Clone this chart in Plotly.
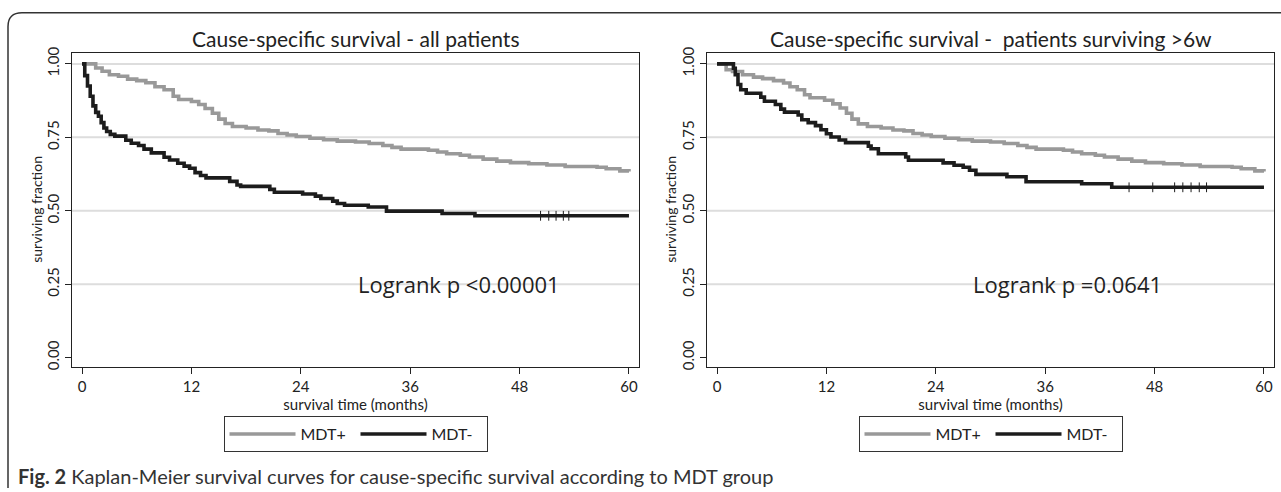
import plotly.graph_objects as go

# ---------------- data ----------------
month_ticks = [0, 12, 24, 36, 48, 60]
surv_ticks = [0, 0.25, 0.5, 0.75, 1.0]
surv_tick_labels = ["0.00", "0.25", "0.50", "0.75", "1.00"]

# Left panel: all patients
all_pos_t = [0, 1.5, 2.2, 3.0, 4.0, 5.0, 6.0, 7.0, 8.0, 9.0, 10.0, 10.6, 12.0, 12.8, 13.5,
             14.3, 15.0, 15.7, 16.5, 18.0, 19.3, 20.5, 21.5, 22.5, 23.5, 25.0, 26.5, 28.0,
             30.0, 31.5, 33.0, 34.0, 35.0, 38.0, 39.0, 40.0, 41.5, 42.5, 44.0, 45.5, 47.0,
             49.0, 51.0, 53.0, 56.5, 57.5, 59.0, 60.0]
all_pos_s = [1.0, 0.986, 0.975, 0.963, 0.958, 0.948, 0.943, 0.936, 0.922, 0.912, 0.890, 0.879,
             0.872, 0.862, 0.848, 0.832, 0.812, 0.797, 0.787, 0.782, 0.775, 0.772, 0.763, 0.758,
             0.753, 0.747, 0.742, 0.737, 0.734, 0.729, 0.722, 0.716, 0.710, 0.706, 0.700, 0.694,
             0.689, 0.683, 0.676, 0.669, 0.664, 0.660, 0.656, 0.651, 0.648, 0.643, 0.636, 0.634]

all_neg_t = [0, 0.3, 0.6, 0.9, 1.2, 1.5, 1.8, 2.1, 2.4, 2.7, 3.1, 3.6, 4.8, 5.4, 6.2, 6.8, 7.6,
             9.0, 9.6, 10.5, 11.2, 11.8, 12.4, 13.0, 13.6, 16.2, 17.0, 17.4, 20.6, 21.1, 24.2,
             25.6, 26.2, 27.5, 28.0, 28.8, 31.4, 33.4, 39.5, 43.1, 60.0]
all_neg_s = [1.0, 0.960, 0.925, 0.890, 0.857, 0.835, 0.822, 0.800, 0.782, 0.770, 0.760, 0.754,
             0.740, 0.730, 0.722, 0.710, 0.697, 0.682, 0.673, 0.662, 0.652, 0.645, 0.630, 0.620,
             0.612, 0.600, 0.588, 0.583, 0.573, 0.563, 0.557, 0.550, 0.542, 0.533, 0.525, 0.519,
             0.513, 0.499, 0.491, 0.483, 0.483]
all_neg_cens_t = [50.3, 51.2, 52.0, 52.8, 53.4]
all_neg_cens_s = [0.483, 0.483, 0.483, 0.483, 0.483]

# Right panel: patients surviving > 6 weeks
s6w_pos_t = [0, 1.0, 1.7, 2.8, 4.0, 5.0, 6.2, 7.3, 8.0, 8.8, 9.6, 10.2, 11.8, 12.7, 13.5, 14.2,
             14.8, 15.5, 16.5, 18.0, 19.3, 20.5, 21.5, 22.5, 23.5, 25.0, 26.5, 28.0, 30.0, 31.5,
             33.0, 34.0, 35.0, 38.0, 39.0, 40.0, 41.5, 42.5, 44.0, 45.5, 47.0, 49.0, 51.0, 53.0,
             56.5, 57.5, 59.0, 60.0]
s6w_pos_s = [1.0, 0.980, 0.974, 0.963, 0.955, 0.950, 0.943, 0.935, 0.922, 0.912, 0.895, 0.885,
             0.876, 0.864, 0.850, 0.832, 0.812, 0.796, 0.787, 0.782, 0.775, 0.772, 0.763, 0.758,
             0.753, 0.747, 0.742, 0.737, 0.734, 0.729, 0.722, 0.716, 0.710, 0.706, 0.700, 0.694,
             0.689, 0.683, 0.676, 0.669, 0.664, 0.660, 0.656, 0.651, 0.648, 0.643, 0.636, 0.634]

s6w_neg_t = [0, 1.8, 2.0, 2.3, 2.6, 3.2, 4.8, 5.2, 6.4, 7.0, 7.4, 8.9, 9.3, 10.0, 10.8, 11.4,
             12.0, 12.5, 13.4, 14.1, 16.6, 16.9, 17.7, 20.7, 21.0, 24.8, 26.0, 27.0, 27.7, 28.4,
             31.8, 33.9, 40.0, 43.3, 60.0]
s6w_neg_s = [1.0, 0.985, 0.963, 0.930, 0.912, 0.900, 0.887, 0.873, 0.862, 0.846, 0.836, 0.826,
             0.810, 0.800, 0.790, 0.776, 0.762, 0.751, 0.741, 0.732, 0.720, 0.711, 0.694, 0.683,
             0.672, 0.663, 0.655, 0.648, 0.638, 0.624, 0.616, 0.599, 0.592, 0.580, 0.580]
s6w_neg_cens_t = [45.2, 47.8, 50.2, 51.1, 52.0, 52.9, 53.7]
s6w_neg_cens_s = [0.58, 0.58, 0.58, 0.58, 0.58, 0.58, 0.58]

titles = ["Cause-specific survival - all patients",
          "Cause-specific survival -  patients surviving >6w"]
pvalues = ["Logrank p <0.00001", "Logrank p =0.0641"]
p_pos = [(41.4, 0.25), (38.4, 0.25)]
series_names = ["MDT+", "MDT-"]
caption = "<b>Fig. 2</b> Kaplan-Meier survival curves for cause-specific survival according to MDT group"

# ---------------- layout helpers ----------------
W, H = 1281, 492
def px(x):
    return x / W
def py(y):
    return 1 - y / H

GRAY = "#999999"
BLACK = "#1c1c1c"
FONT = "Lato"

fig = go.Figure()

panels = [
    dict(xa="x", ya="y", leg="legend", pos=(all_pos_t, all_pos_s), neg=(all_neg_t, all_neg_s),
         cens=(all_neg_cens_t, all_neg_cens_s)),
    dict(xa="x2", ya="y2", leg="legend2", pos=(s6w_pos_t, s6w_pos_s), neg=(s6w_neg_t, s6w_neg_s),
         cens=(s6w_neg_cens_t, s6w_neg_cens_s)),
]

for p in panels:
    fig.add_trace(go.Scatter(x=p["pos"][0], y=p["pos"][1], mode="lines", name=series_names[0],
                             line=dict(shape="hv", color=GRAY, width=3.6),
                             xaxis=p["xa"], yaxis=p["ya"], legend=p["leg"], hoverinfo="skip"))
    fig.add_trace(go.Scatter(x=p["neg"][0], y=p["neg"][1], mode="lines", name=series_names[1],
                             line=dict(shape="hv", color=BLACK, width=3.6),
                             xaxis=p["xa"], yaxis=p["ya"], legend=p["leg"], hoverinfo="skip"))
    fig.add_trace(go.Scatter(x=p["cens"][0], y=p["cens"][1], mode="markers", showlegend=False,
                             marker=dict(symbol="line-ns", size=7, line=dict(color=BLACK, width=1)),
                             xaxis=p["xa"], yaxis=p["ya"], hoverinfo="skip"))

x_domains = [[px(72), px(639)], [px(707), px(1274)]]
y_domain = [py(368), py(48)]

axis_common = dict(showline=True, linecolor="#222222", linewidth=1.3, mirror=True,
                   ticks="outside", ticklen=6, tickwidth=1, tickcolor="#222222",
                   showgrid=False, zeroline=False, tickfont=dict(family=FONT, size=15, color="#222222"))

for i, dom in enumerate(x_domains):
    sfx = "" if i == 0 else str(i + 1)
    fig.update_layout(**{
        "xaxis" + sfx: dict(domain=dom, range=[-1.1, 61.1], tickvals=month_ticks,
                            anchor="y" + sfx,
                            title=dict(text="survival time (months)", standoff=2,
                                       font=dict(family=FONT, size=15, color="#222222")),
                            **axis_common),
        "yaxis" + sfx: dict(domain=y_domain, range=[-0.03, 1.037], tickvals=surv_ticks,
                            ticktext=surv_tick_labels, tickangle=-90, anchor="x" + sfx,
                            **axis_common),
    })

shapes = []
for i in range(2):
    sfx = "" if i == 0 else str(i + 1)
    for v in surv_ticks[1:]:
        shapes.append(dict(type="line", xref="x" + sfx + " domain", yref="y" + sfx,
                           x0=0, x1=1, y0=v, y1=v, layer="below",
                           line=dict(color="#dddddd", width=2)))
# outer figure frame (rounded top-left corner)
shapes.append(dict(type="path", xref="paper", yref="paper", layer="above",
                   path=f"M {px(8)},{py(492)} L {px(8)},{py(21)} Q {px(8)},{py(7)} {px(22)},{py(7)} L {px(1281)},{py(7)}",
                   line=dict(color="#333333", width=1.5)))

annotations = []
title_x = [px((72 + 639) / 2), px((707 + 1274) / 2)]
ytitle_x = [px(37), px(671)]
for i in range(2):
    sfx = "" if i == 0 else str(i + 1)
    annotations.append(dict(text=titles[i], x=title_x[i], y=py(33), xref="paper", yref="paper",
                            xanchor="center", yanchor="middle", showarrow=False,
                            font=dict(family=FONT, size=21, color="#222222")))
    annotations.append(dict(text="surviving fraction", x=ytitle_x[i], y=py(208), xref="paper",
                            yref="paper", textangle=-90, xanchor="center", yanchor="middle",
                            showarrow=False, font=dict(family=FONT, size=14, color="#222222")))
    annotations.append(dict(text=pvalues[i], x=p_pos[i][0], y=p_pos[i][1], xref="x" + sfx,
                            yref="y" + sfx, xanchor="center", yanchor="middle", showarrow=False,
                            font=dict(family="Open Sans", size=22, color="#222222")))
annotations.append(dict(text=caption, x=px(16), y=py(480), xref="paper", yref="paper",
                        xanchor="left", yanchor="middle", showarrow=False,
                        font=dict(family=FONT, size=20, color="#333333")))

legend_common = dict(orientation="h", yanchor="middle", y=py(437), xanchor="center",
                     bordercolor="#333333", borderwidth=1, bgcolor="white",
                     font=dict(family=FONT, size=16, color="#222222"), itemwidth=66,
                     entrywidth=50, entrywidthmode="pixels", tracegroupgap=0)

fig.update_layout(
    width=W, height=H, margin=dict(l=0, r=0, t=0, b=0),
    paper_bgcolor="white", plot_bgcolor="white",
    shapes=shapes, annotations=annotations,
    legend=dict(x=px(355.5), **legend_common),
    legend2=dict(x=px(990.5), **legend_common),
)

fig.write_html("out.html", config={"displayModeBar": False},
               post_script="document.body.style.margin='0';document.body.style.overflow='hidden';")
